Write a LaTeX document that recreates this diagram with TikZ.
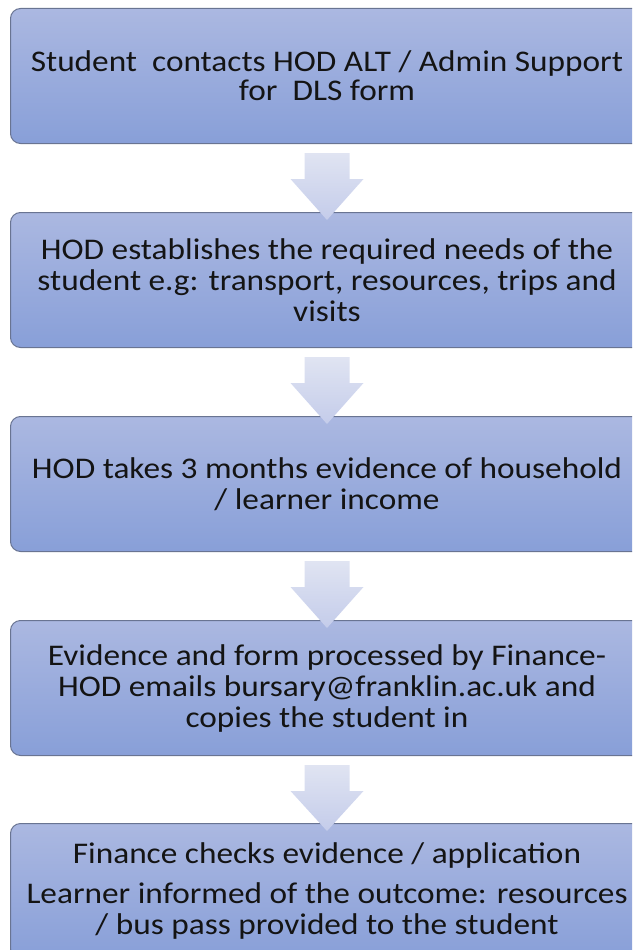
\documentclass[tikz,border=0pt]{standalone}
\usepackage{fontspec}
\setmainfont{Carlito}[FakeStretch=1.11]
\usetikzlibrary{calc}
\definecolor{boxtop}{RGB}{171,184,225}
\definecolor{boxbot}{RGB}{136,159,216}
\definecolor{boxline}{RGB}{105,116,146}
\definecolor{arrtop}{RGB}{224,228,242}
\definecolor{arrbot}{RGB}{196,204,234}
\definecolor{txt}{RGB}{20,20,20}
\tikzset{
  stepbox/.style={draw=boxline, line width=1pt, rounded corners=10pt,
    top color=boxtop, bottom color=boxbot, minimum width=633pt,
    minimum height=135pt, anchor=north west, align=center,
    font=\fontsize{30pt}{31pt}\selectfont, text=txt, inner sep=0pt},
  downarrow/.style={top color=arrtop, bottom color=arrbot, draw=none}
}
\newcommand{\flowarrow}[2]{%
  \shade[downarrow] ($(#1.south)+(-22.5,-9)$) -- ($(#1.south)+(22.5,-9)$)
    -- ($(#1.south)+(22.5,-35)$) -- ($(#1.south)+(36.5,-35)$)
    -- ($(#2.north)+(0,-8)$) -- ($(#1.south)+(-36.5,-35)$)
    -- ($(#1.south)+(-22.5,-35)$) -- cycle;}
\begin{document}
\begin{tikzpicture}[x=1pt,y=1pt]
\useasboundingbox (0,0) rectangle (632,-950);
\clip (0,0) rectangle (632,-950);
\node[stepbox] (b1) at (10,-8) {Student\ \ contacts HOD ALT / Admin Support\\[-2pt]for\ \ DLS form};
\node[stepbox] (b2) at (10,-212) {HOD establishes the required needs of the\\student e.g: transport, resources, trips and\\visits};
\node[stepbox] (b3) at (10,-416) {HOD takes 3 months evidence of household\\/ learner income};
\node[stepbox] (b4) at (10,-620) {Evidence and form processed by Finance-\\HOD emails bursary@franklin.ac.uk and\\copies the student in};
\node[stepbox] (b5) at (10,-823) {Finance checks evidence / application\\[9pt]Learner informed of the outcome: resources\\/ bus pass provided to the student};
\flowarrow{b1}{b2}
\flowarrow{b2}{b3}
\flowarrow{b3}{b4}
\flowarrow{b4}{b5}
\end{tikzpicture}
\end{document}
